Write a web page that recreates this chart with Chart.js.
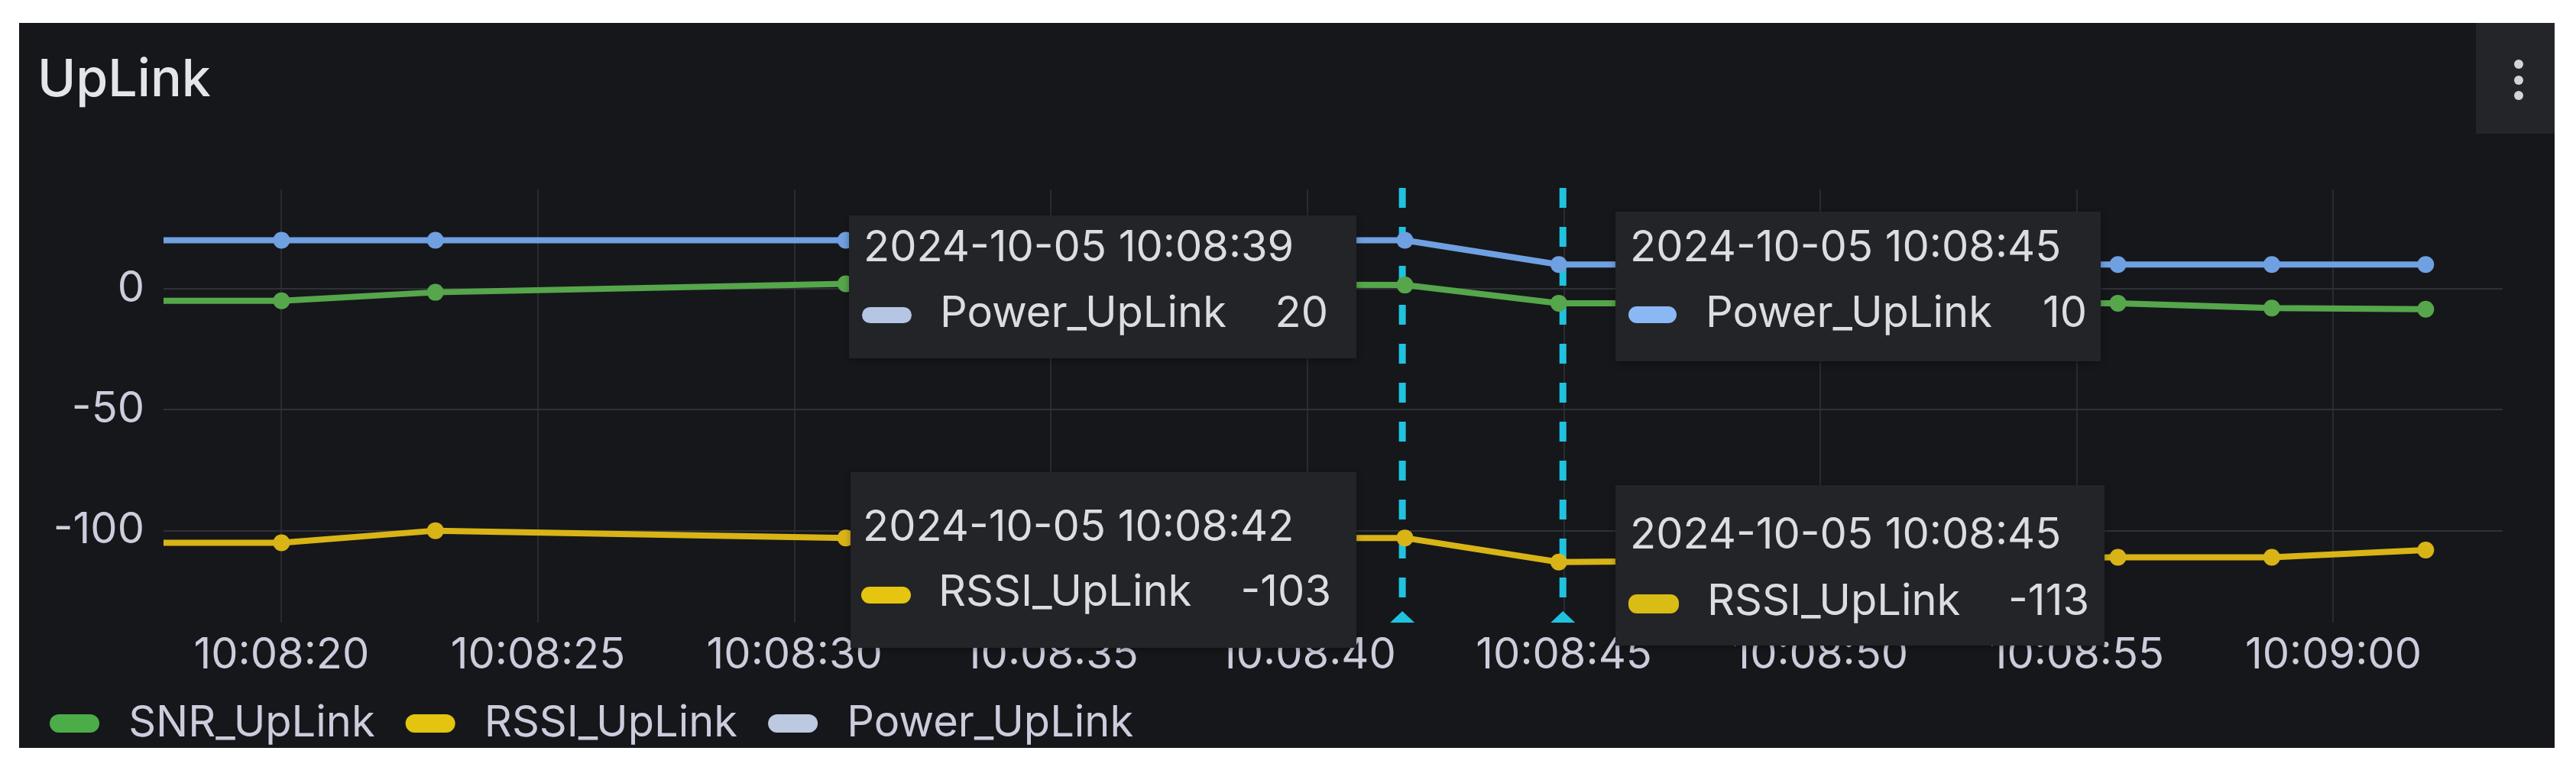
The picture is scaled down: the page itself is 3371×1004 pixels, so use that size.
<!DOCTYPE html>
<html>
<head>
<meta charset="utf-8">
<script src="https://cdn.jsdelivr.net/npm/chart.js@4.4.1/dist/chart.umd.min.js"></script>
<style>
  html, body { margin: 0; padding: 0; background: #ffffff; }
  body { width: 3371px; height: 1004px; position: relative; overflow: hidden; font-family: Inter, "Noto Sans", sans-serif; }
  #panel { position: absolute; left: 25px; top: 30px; width: 3318px; height: 949px; background: #16171b; overflow: hidden; }
  #title { position: absolute; left: 24px; top: 37px; font-size: 68px; font-weight: 500; line-height: 1; color: #e4e5ea; }
  #menu { position: absolute; left: 3215px; top: 0; width: 103px; height: 145px; background: #242529; }
  #menu span { position: absolute; left: 50px; width: 12px; height: 12px; border-radius: 6px; background: #d2d4da; }
  #chart { position: absolute; left: 0; top: 0; }
  .tip { position: absolute; background: #232428; box-shadow: 0 2px 8px rgba(0,0,0,0.35); }
  .tip div { position: absolute; font-size: 56px; line-height: 1; color: #dcdde2; white-space: nowrap; }
  .tip i { position: absolute; border-radius: 11px; }
</style>
</head>
<body>
<div id="panel">
  <div id="title">UpLink</div>
  <div id="menu"><span style="top:48px"></span><span style="top:69px"></span><span style="top:89px"></span></div>
  <canvas id="chart" width="3318" height="960"></canvas>
</div>
<script>
// seconds after 10:08:00
const times = [17, 20, 23, 31, 41.9, 44.9, 55.8, 58.8, 61.8];
const snrUpLink = [-5, -5, -1.5, 2, 1.5, -6, -6, -8, -8.5];
const rssiUpLink = [-105, -105, -100, -103, -103, -113, -111, -111, -108];
const powerUpLink = [20, 20, 20, 20, 20, 10, 10, 10, 10];
const seriesNames = ['SNR_UpLink', 'RSSI_UpLink', 'Power_UpLink'];

const xTickSeconds = [20, 25, 30, 35, 40, 45, 50, 55, 60];
const yTickValues = [-100, -50, 0];

const annotationTimes = [41.85, 44.98];

const tooltipDates = ['2024-10-05 10:08:39', '2024-10-05 10:08:42', '2024-10-05 10:08:45', '2024-10-05 10:08:45'];
const tooltipSeries = ['Power_UpLink', 'RSSI_UpLink', 'Power_UpLink', 'RSSI_UpLink'];
const tooltipValues = [20, -103, 10, -113];

const lineColors = ['#56a64b', '#d9b417', '#6fa0e2'];
const legendColors = ['#4cac48', '#e3c40f', '#bcc9e0'];

const pad = n => String(n).padStart(2, '0');
const fmtTime = s => '10:' + pad(8 + Math.floor(s / 60)) + ':' + pad(Math.round(s % 60));

const makeSet = (i, values) => ({
  label: seriesNames[i],
  data: times.map((t, k) => ({x: t, y: values[k]})),
  borderColor: lineColors[i],
  backgroundColor: lineColors[i],
  pointBackgroundColor: lineColors[i],
  borderWidth: 8,
  pointRadius: 11,
  pointBorderWidth: 0,
  clip: 0
});

const annotations = {
  id: 'annotations',
  beforeDatasetsDraw(chart) {
    const {ctx, chartArea, scales: {x}} = chart;
    ctx.save();
    annotationTimes.forEach(t => {
      const px = x.getPixelForValue(t);
      ctx.strokeStyle = '#1fc3e0';
      ctx.lineWidth = 9;
      ctx.setLineDash([26, 25]);
      ctx.beginPath();
      ctx.moveTo(px, chartArea.top - 2);
      ctx.lineTo(px, chartArea.bottom - 18);
      ctx.stroke();
      ctx.setLineDash([]);
      ctx.fillStyle = '#1fc3e0';
      ctx.beginPath();
      ctx.moveTo(px - 16, chartArea.bottom);
      ctx.lineTo(px + 16, chartArea.bottom);
      ctx.lineTo(px, chartArea.bottom - 15);
      ctx.closePath();
      ctx.fill();
    });
    ctx.restore();
  }
};

Chart.defaults.font.family = 'Inter';
Chart.defaults.color = '#ccccdc';

new Chart(document.getElementById('chart'), {
  type: 'line',
  data: {
    datasets: [makeSet(0, snrUpLink), makeSet(1, rssiUpLink), makeSet(2, powerUpLink)]
  },
  options: {
    responsive: false,
    animation: false,
    devicePixelRatio: 1,
    events: [],
    layout: { padding: { top: 218, right: 68, bottom: 5, left: 0 } },
    scales: {
      x: {
        type: 'linear',
        min: 17.7,
        max: 63.3,
        afterBuildTicks: s => { s.ticks = xTickSeconds.map(v => ({value: v})); },
        afterFit: s => { s.height = 64; },
        ticks: { autoSkip: false, padding: 10, maxRotation: 0, font: { size: 56 }, color: '#ccccdc', callback: v => fmtTime(v) },
        grid: { color: '#2a2b30', lineWidth: 2, drawTicks: false },
        border: { display: false }
      },
      y: {
        min: -138,
        max: 41,
        afterBuildTicks: s => { s.ticks = yTickValues.map(v => ({value: v})); },
        afterFit: s => { s.width = 189; },
        ticks: { autoSkip: false, padding: 25, font: { size: 56 }, color: '#ccccdc' },
        grid: { color: '#303136', lineWidth: 2, drawTicks: false },
        border: { display: false }
      }
    },
    plugins: {
      tooltip: { enabled: false },
      legend: {
        position: 'bottom',
        align: 'start',
        labels: {
          boxWidth: 65,
          boxHeight: 24,
          useBorderRadius: true,
          borderRadius: 12,
          padding: 40,
          font: { size: 56 },
          color: '#ccccdc',
          // thin space widens the gap between the pill and its label
          generateLabels: chart => chart.data.datasets.map((ds, i) => ({
            text: '\u2009' + ds.label,
            fillStyle: legendColors[i],
            strokeStyle: legendColors[i],
            lineWidth: 0,
            hidden: false,
            datasetIndex: i,
            fontColor: '#ccccdc',
            borderRadius: 12
          }))
        }
      }
    }
  },
  plugins: [annotations]
});

// hover tooltips frozen in the screenshot
const tipBoxes = [
  {left: 1086, top: 252, w: 664, h: 187, textL: 19, dateBase: 60, markTop: 120, markW: 65, markH: 21, nameL: 119, nameBase: 146, padR: 37, mark: '#b4c6e4'},
  {left: 1088, top: 588, w: 662, h: 230, textL: 16, dateBase: 90, markTop: 150, markW: 65, markH: 22, nameL: 115, nameBase: 175, padR: 33, mark: '#e6c511'},
  {left: 2089, top: 247, w: 635, h: 196, textL: 19, dateBase: 65, markTop: 124, markW: 63, markH: 22, nameL: 118, nameBase: 151, padR: 18, mark: '#8ab8f5'},
  {left: 2089, top: 605, w: 640, h: 210, textL: 19, dateBase: 83, markTop: 143, markW: 66, markH: 25, nameL: 120, nameBase: 170, padR: 20, mark: '#d9bc14'}
];
const panel = document.getElementById('panel');
const ascent = 48;
tipBoxes.forEach((b, i) => {
  const tip = document.createElement('div');
  tip.className = 'tip';
  Object.assign(tip.style, {left: b.left + 'px', top: b.top + 'px', width: b.w + 'px', height: b.h + 'px'});
  const date = document.createElement('div');
  date.textContent = tooltipDates[i];
  Object.assign(date.style, {left: b.textL + 'px', top: (b.dateBase - ascent) + 'px'});
  const mark = document.createElement('i');
  Object.assign(mark.style, {left: (b.textL - 2) + 'px', top: b.markTop + 'px', width: b.markW + 'px', height: b.markH + 'px', background: b.mark});
  const name = document.createElement('div');
  name.textContent = tooltipSeries[i];
  Object.assign(name.style, {left: b.nameL + 'px', top: (b.nameBase - ascent) + 'px'});
  const val = document.createElement('div');
  val.textContent = String(tooltipValues[i]);
  Object.assign(val.style, {right: b.padR + 'px', top: (b.nameBase - ascent) + 'px'});
  tip.append(date, mark, name, val);
  panel.appendChild(tip);
});
</script>
</body>
</html>
